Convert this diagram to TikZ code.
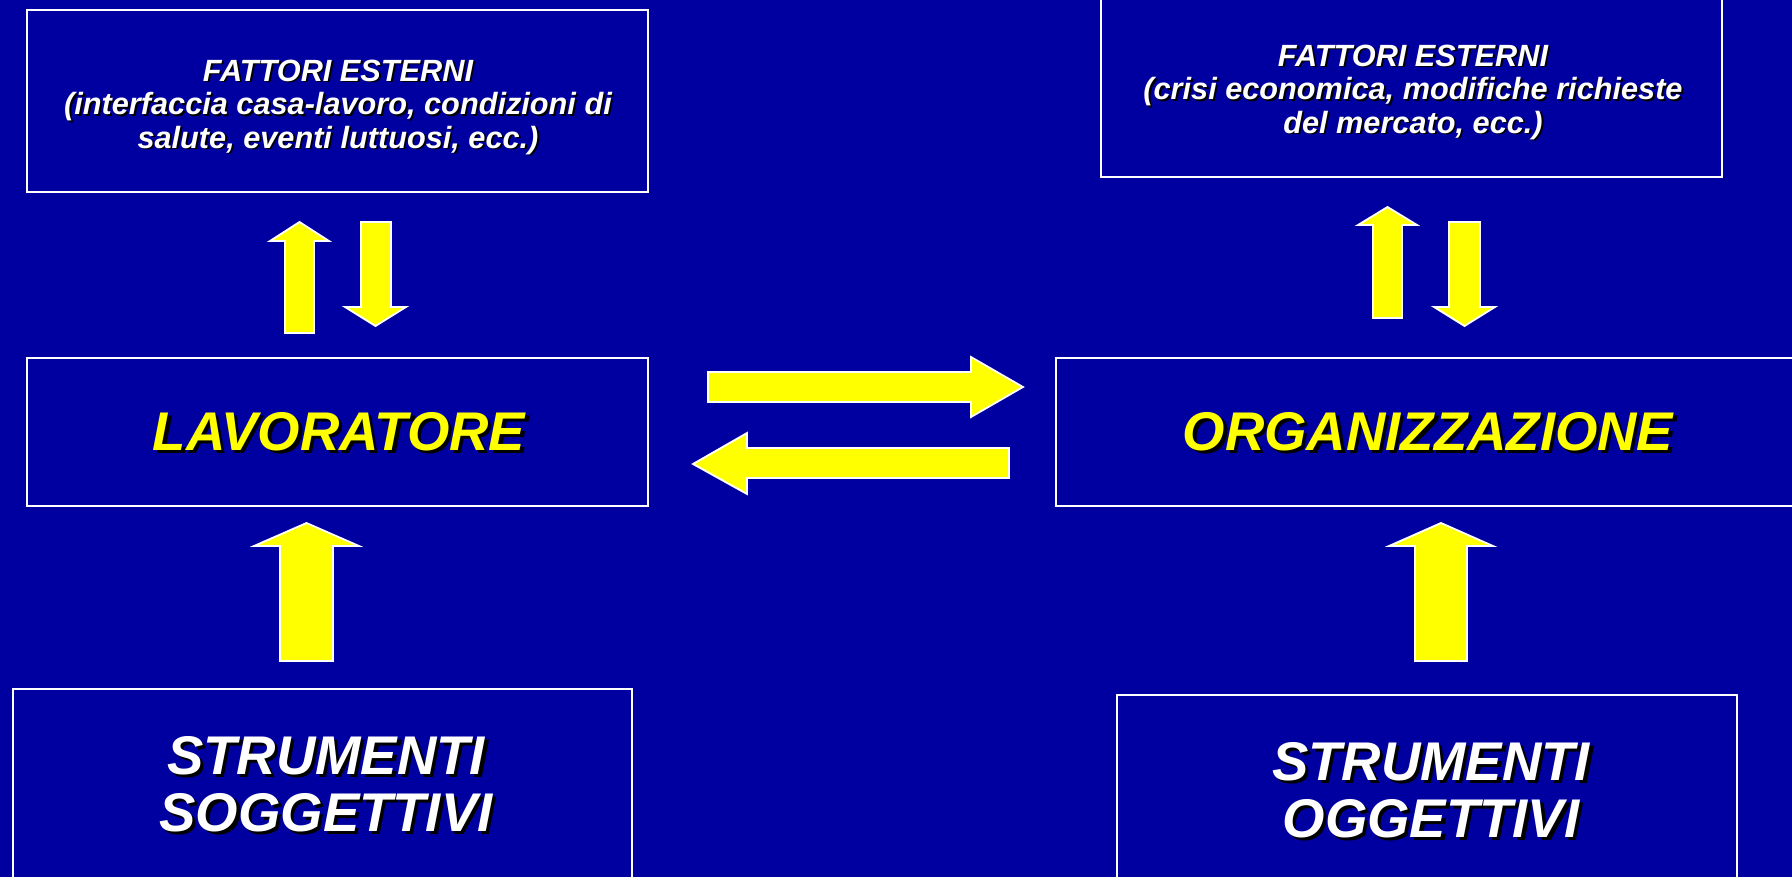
\documentclass[tikz,border=0pt]{standalone}
\usepackage{fontspec}
\setmainfont{Liberation Sans}
\definecolor{bgblue}{RGB}{0,0,160}
\definecolor{ayellow}{RGB}{255,255,0}
\newcommand\shtext[1]{\leavevmode\rlap{\kern0.06em\raisebox{-0.06em}{\color{black}#1}}#1}
\tikzset{
  framebox/.style={draw=white, line width=2pt, fill=bgblue},
  blockarrow/.style={draw=white, line width=1.8pt, fill=ayellow, line join=miter},
  smalltext/.style={text=white, align=center, font=\fontsize{30.7}{33.5}\selectfont\bfseries\itshape, inner sep=0pt},
  bigtext/.style={align=center, font=\fontsize{54.5}{57}\selectfont\bfseries\itshape, inner sep=0pt},
}
\begin{document}
\begin{tikzpicture}[x=1pt,y=-1pt]
\useasboundingbox (0,0) rectangle (1792,877);
\clip (0,0) rectangle (1792,877);
\fill[bgblue] (0,0) rectangle (1792,877);
% boxes
\draw[framebox] (27,10) rectangle (648,192);
\draw[framebox] (1101,-10) rectangle (1722,177);
\draw[framebox] (27,358) rectangle (648,506);
\draw[framebox] (1056,358) rectangle (1810,506);
\draw[framebox] (13,689) rectangle (632,890);
\draw[framebox] (1117,695) rectangle (1737,890);
% texts
\node[smalltext] (fe1) at (338,108) {\shtext{FATTORI ESTERNI}\\\shtext{(interfaccia casa-lavoro, condizioni di}\\\shtext{salute, eventi luttuosi, ecc.)}};
\node[smalltext] (fe2) at (1413,93) {\shtext{FATTORI ESTERNI}\\\shtext{(crisi economica, modifiche richieste}\\\shtext{del mercato, ecc.)}};
\node[bigtext, text=ayellow] (lav) at (339,433) {\shtext{LAVORATORE}};
\node[bigtext, text=ayellow] (org) at (1428,433) {\shtext{ORGANIZZAZIONE}};
\node[bigtext, text=white] (sogg) at (326,786) {\shtext{STRUMENTI}\\\shtext{SOGGETTIVI}};
\node[bigtext, text=white] (ogg) at (1431,792) {\shtext{STRUMENTI}\\\shtext{OGGETTIVI}};
% vertical arrows top-left
\draw[blockarrow] (285,333) -- (285,241) -- (270,241) -- (299.5,222) -- (329,241) -- (314,241) -- (314,333) -- cycle;
\draw[blockarrow] (361,222) -- (361,307) -- (345,307) -- (375.5,326) -- (406,307) -- (391,307) -- (391,222) -- cycle;
% vertical arrows top-right
\draw[blockarrow] (1373,318) -- (1373,225) -- (1358,225) -- (1387.5,207) -- (1417,225) -- (1402,225) -- (1402,318) -- cycle;
\draw[blockarrow] (1449,222) -- (1449,307) -- (1434,307) -- (1464.5,326) -- (1495,307) -- (1480,307) -- (1480,222) -- cycle;
% horizontal arrows
\draw[blockarrow] (708,372) -- (971,372) -- (971,357) -- (1023,387) -- (971,417) -- (971,402) -- (708,402) -- cycle;
\draw[blockarrow] (1009,448) -- (747,448) -- (747,433) -- (693,464) -- (747,494) -- (747,478) -- (1009,478) -- cycle;
% bottom up arrows
\draw[blockarrow] (280,661) -- (280,546) -- (254,546) -- (306.5,523) -- (359,546) -- (333,546) -- (333,661) -- cycle;
\draw[blockarrow] (1415,661) -- (1415,546) -- (1389,546) -- (1441,523) -- (1493,546) -- (1467,546) -- (1467,661) -- cycle;
\end{tikzpicture}
\end{document}
